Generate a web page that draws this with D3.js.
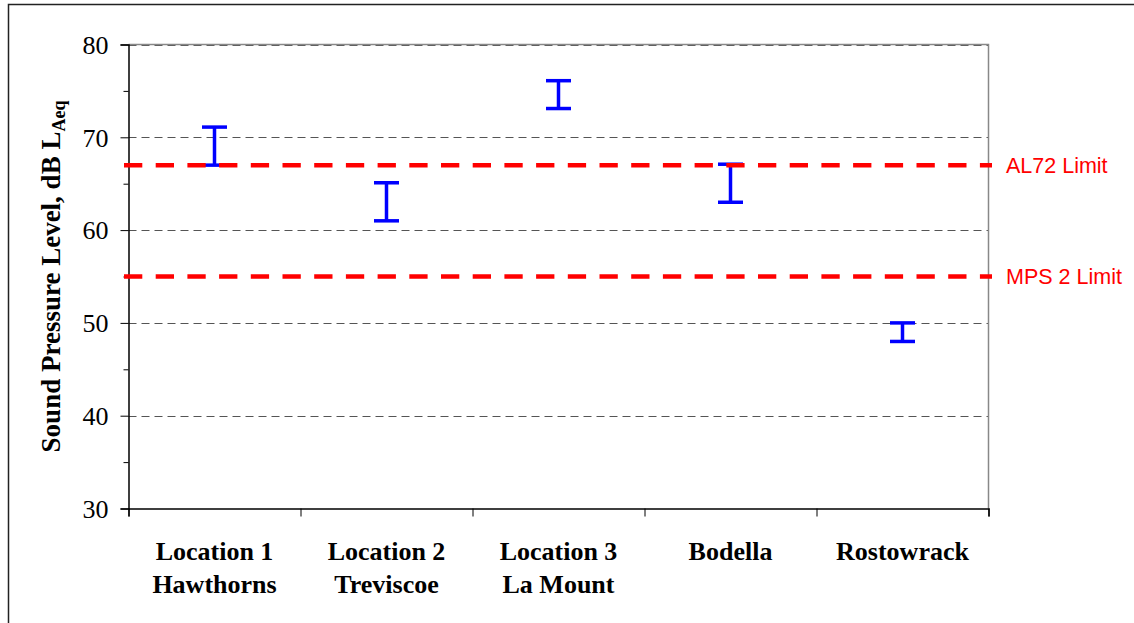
<!DOCTYPE html>
<html>
<head>
<meta charset="utf-8">
<script src="https://cdn.jsdelivr.net/npm/d3@7"></script>
<style>
  html, body { margin: 0; padding: 0; background: #fff; }
  svg { display: block; }
</style>
</head>
<body>
<svg id="chart" width="1134" height="623"></svg>
<script>
// Monitoring locations (two-line labels)
const categories = ["Location 1|Hawthorns", "Location 2|Treviscoe", "Location 3|La Mount", "Bodella", "Rostowrack"];
// Measured range of sound pressure level at each location, dB LAeq
const lowValues  = [67, 61, 73.1, 63, 48];
const highValues = [71.1, 65.1, 76.1, 67.1, 50];
// Planning limits drawn across the chart
const limitNames  = ["AL72 Limit", "MPS 2 Limit"];
const limitValues = [67, 55];
// Y axis ticks
const majorTicks = [30, 40, 50, 60, 70, 80];
const minorTicks = [35, 45, 55, 65, 75];

const svg = d3.select("#chart");
const plotLeft = 128.5, plotRight = 988.5, plotTop = 44.5, plotBottom = 508.5;

// Outer frame
svg.append("rect")
  .attr("x", 8.5).attr("y", 4.5).attr("width", 1300).attr("height", 800)
  .attr("fill", "none").attr("stroke", "#222").attr("stroke-width", 1.5);

const x = d3.scaleBand().domain(categories).range([plotLeft, plotRight]).padding(0);
const xEdge = d3.scaleLinear().domain([0, categories.length]).range([plotLeft, plotRight]);
const y = d3.scaleLinear().domain([30, 80]).range([plotBottom, plotTop]);

// Gridlines
svg.append("g").selectAll("line").data([40, 50, 60, 70, 80]).join("line")
  .attr("x1", plotLeft).attr("x2", plotRight)
  .attr("y1", d => Math.round(y(d)) + 0.5).attr("y2", d => Math.round(y(d)) + 0.5)
  .attr("stroke", "#555").attr("stroke-width", 1).attr("stroke-dasharray", "8,5");

// Plot border (top and right)
svg.append("path")
  .attr("d", `M${plotLeft},${plotTop}H${plotRight}V${plotBottom}`)
  .attr("fill", "none").attr("stroke", "#888").attr("stroke-width", 1.5);

// Left axis with major and minor ticks
const yAxis = svg.append("g").attr("transform", `translate(${plotLeft},0)`)
  .call(d3.axisLeft(y).tickValues(majorTicks).tickSize(8).tickPadding(12).tickFormat(d3.format("d")));
yAxis.select(".domain").attr("stroke", "#000").attr("stroke-width", 1.5);
yAxis.selectAll(".tick line").attr("stroke", "#000").attr("stroke-width", 1);
yAxis.selectAll(".tick text")
  .attr("font-family", "'Liberation Serif', 'Times New Roman', serif")
  .attr("font-size", 26).attr("fill", "#000").attr("dy", "0.34em");

const yMinor = svg.append("g").attr("transform", `translate(${plotLeft},0)`)
  .call(d3.axisLeft(y).tickValues(minorTicks).tickSize(5).tickFormat(""));
yMinor.select(".domain").remove();
yMinor.selectAll(".tick line").attr("stroke", "#000");

// Bottom axis: ticks on the category boundaries
const xAxis = svg.append("g").attr("transform", `translate(0,${plotBottom})`)
  .call(d3.axisBottom(xEdge).tickValues(d3.range(categories.length + 1)).tickSize(8).tickFormat(""));
xAxis.select(".domain").attr("stroke", "#000").attr("stroke-width", 1.5);
xAxis.selectAll(".tick line").attr("stroke", "#000");

// Category labels
const catLabels = svg.append("g")
  .attr("font-family", "'Liberation Serif', 'Times New Roman', serif")
  .attr("font-size", 26).attr("font-weight", "bold").attr("text-anchor", "middle");
categories.forEach(c => {
  const lines = c.split("|");
  const cx = x(c) + x.bandwidth() / 2;
  const t = catLabels.append("text").attr("x", cx).attr("y", 560);
  lines.forEach((ln, i) => {
    t.append("tspan").attr("x", cx).attr("dy", i === 0 ? 0 : 33).text(ln);
  });
});

// Y axis title
const yTitle = svg.append("text")
  .attr("transform", `translate(60,${(plotTop + plotBottom) / 2}) rotate(-90)`)
  .attr("text-anchor", "middle")
  .attr("font-family", "'Liberation Serif', 'Times New Roman', serif")
  .attr("font-size", 27).attr("font-weight", "bold").attr("fill", "#000");
yTitle.append("tspan").text("Sound Pressure Level, dB L");
yTitle.append("tspan").attr("font-size", 18).attr("dy", 5).text("Aeq");

// Error bars (range at each location)
const bars = svg.append("g").attr("stroke", "#0000ff").attr("fill", "none");
const capHalf = 12.5;
categories.forEach((c, i) => {
  const cx = x(c) + x.bandwidth() / 2;
  bars.append("line")
    .attr("x1", cx).attr("x2", cx)
    .attr("y1", y(lowValues[i])).attr("y2", y(highValues[i]))
    .attr("stroke-width", 3.5);
  [lowValues[i], highValues[i]].forEach(v => {
    bars.append("line")
      .attr("x1", cx - capHalf).attr("x2", cx + capHalf)
      .attr("y1", y(v)).attr("y2", y(v))
      .attr("stroke-width", 3.5);
  });
});

// Limit lines with labels
const limits = svg.append("g");
limitValues.forEach((v, i) => {
  limits.append("line")
    .attr("x1", plotLeft - 4.5).attr("x2", plotRight + 3.5)
    .attr("y1", y(v)).attr("y2", y(v))
    .attr("stroke", "#ff0000").attr("stroke-width", 4.5)
    .attr("stroke-dasharray", "18.3,13.4");
  limits.append("text")
    .attr("x", 1006).attr("y", y(v)).attr("dy", "0.36em")
    .attr("font-family", "'Liberation Sans', Arial, sans-serif")
    .attr("font-size", 21.5).attr("fill", "#ff0000")
    .text(limitNames[i]);
});
</script>
</body>
</html>
